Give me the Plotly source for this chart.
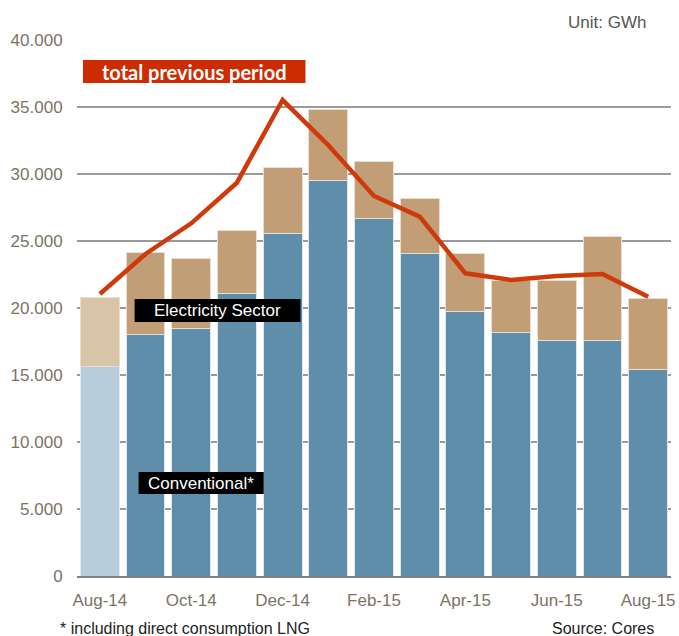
import plotly.graph_objects as go

months = ["Aug-14", "Sep-14", "Oct-14", "Nov-14", "Dec-14", "Jan-15", "Feb-15",
          "Mar-15", "Apr-15", "May-15", "Jun-15", "Jul-15", "Aug-15"]
conventional = [15600, 18060, 18500, 21100, 25550, 29530, 26670,
                24050, 19730, 18160, 17610, 17560, 15400]
total = [20820, 24130, 23660, 25800, 30520, 34830, 30920,
         28160, 24050, 22060, 22060, 25370, 20700]
electricity = [t - c for t, c in zip(total, conventional)]
previous_total = [21040, 24030, 26320, 29350, 35520, 32150, 28360,
                  26820, 22590, 22090, 22390, 22540, 20840]
tick_labels = ["Aug-14", "Oct-14", "Dec-14", "Feb-15", "Apr-15", "Jun-15", "Aug-15"]
y_ticks = [0, 5000, 10000, 15000, 20000, 25000, 30000, 35000, 40000]
y_tick_text = ["0", "5.000", "10.000", "15.000", "20.000", "25.000", "30.000", "35.000", "40.000"]

blue = ["#b7cddb"] + ["#5f8eaa"] * 12
tan = ["#dac4a8"] + ["#c19e75"] * 12
grey_text = "#7b7363"

fig = go.Figure()
fig.add_trace(go.Bar(x=months, y=conventional, marker=dict(color=blue, line=dict(color="#dfe8ee", width=1)),
                     name="Conventional*"))
fig.add_trace(go.Bar(x=months, y=electricity, marker=dict(color=tan, line=dict(color="#eadfce", width=1)),
                     name="Electricity Sector"))
fig.add_trace(go.Scatter(x=months, y=previous_total, mode="lines",
                         line=dict(color="#cf3a0c", width=4.5), name="total previous period"))

L, R, T, B = 77, 675, 40, 576
W, H = R - L, B - T

def px(x):
    return (x - L) / W

def py(y):
    return (B - y) / H

shapes = []
annotations = []

def box(x0, y0, x1, y1, color, text, font):
    shapes.append(dict(type="rect", xref="paper", yref="paper",
                       x0=px(x0), x1=px(x1), y0=py(y1), y1=py(y0),
                       fillcolor=color, line=dict(width=0), layer="above"))
    annotations.append(dict(xref="paper", yref="paper", x=px((x0 + x1) / 2), y=py((y0 + y1) / 2),
                            text=text, showarrow=False, font=font, xanchor="center", yanchor="middle"))

box(83, 60, 307, 83, "#cc2c00", "<b>total previous period</b>",
    dict(family="Lato", size=20, color="white"))
box(135, 299, 302, 322, "black", "Electricity Sector",
    dict(family="Liberation Sans", size=17, color="white"))
box(139, 472, 265, 494, "black", "Conventional*",
    dict(family="Liberation Sans", size=17, color="white"))

annotations.append(dict(xref="paper", yref="paper", x=px(652), y=py(22), text="Unit: GWh",
                        showarrow=False, xanchor="right", yanchor="middle",
                        font=dict(family="Liberation Sans", size=17, color="#555555")))
annotations.append(dict(xref="paper", yref="paper", x=px(58), y=py(628),
                        text="* including direct consumption LNG",
                        showarrow=False, xanchor="left", yanchor="middle",
                        font=dict(family="Liberation Sans", size=16, color="#222222")))
annotations.append(dict(xref="paper", yref="paper", x=px(660), y=py(628), text="Source: Cores",
                        showarrow=False, xanchor="right", yanchor="middle",
                        font=dict(family="Liberation Sans", size=16, color="#222222")))

fig.update_layout(
    width=679, height=636,
    margin=dict(l=L, r=679 - R, t=T, b=636 - B),
    barmode="stack", bargap=0.15,
    showlegend=False,
    plot_bgcolor="white", paper_bgcolor="white",
    font=dict(family="Liberation Sans", size=17, color=grey_text),
    shapes=shapes, annotations=annotations,
)
fig.update_xaxes(type="category", tickmode="array", tickvals=tick_labels, ticktext=tick_labels,
                 showgrid=False, showline=True, linecolor="#808080", linewidth=2,
                 ticks="outside", ticklen=8, tickcolor="rgba(0,0,0,0)",
                 tickfont=dict(family="Liberation Sans", size=17, color=grey_text))
fig.update_yaxes(range=[0, 40000], tickmode="array", tickvals=y_ticks, ticktext=y_tick_text,
                 showgrid=True, gridcolor="#9a9a9a", gridwidth=2, zeroline=False,
                 ticks="outside", ticklen=10, tickcolor="rgba(0,0,0,0)",
                 tickfont=dict(family="Liberation Sans", size=17, color=grey_text))

fig.write_html("out.html", config={"displayModeBar": False},
               post_script="document.body.style.margin='0';document.body.style.overflow='hidden';")
